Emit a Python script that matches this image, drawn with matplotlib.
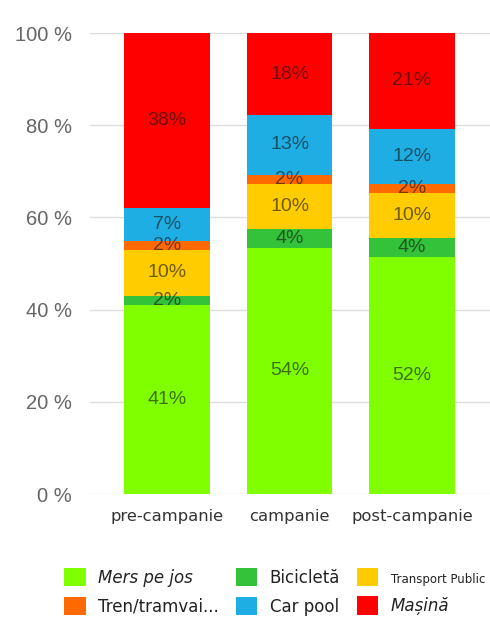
import numpy as np
import matplotlib
matplotlib.use('Agg')
import matplotlib.pyplot as plt
from matplotlib.patches import Patch

# Date (procente)
categories = ['pre-campanie', 'campanie', 'post-campanie']
series_names = ['Mers pe jos', 'Bicicletă', 'Transport Public', 'Tren/tramvai...', 'Car pool', 'Mașină']
mers_pe_jos = [41, 54, 52]
bicicleta = [2, 4, 4]
transport_public = [10, 10, 10]
tren_tramvai = [2, 2, 2]
car_pool = [7, 13, 12]
masina = [38, 18, 21]
y_ticks = [0, 20, 40, 60, 80, 100]

series = [mers_pe_jos, bicicleta, transport_public, tren_tramvai, car_pool, masina]
colors = ['#7FFF00', '#33C23A', '#FFCC00', '#FF6A00', '#1EAEE3', '#FF0000']

data = np.array(series, dtype=float)
totals = data.sum(axis=0)
heights = data / totals * 100  # 100% stacked

fig = plt.figure(figsize=(4.9, 6.17), dpi=100)
ax = fig.add_axes([0.184, 0.199, 0.816, 0.7475])

x = np.arange(len(categories))
bottom = np.zeros(len(categories))
for name, vals, h, c in zip(series_names, series, heights, colors):
    ax.bar(x, h, bottom=bottom, width=0.70, color=c, zorder=2)
    for xi, b, hi, v in zip(x, bottom, h, vals):
        ax.text(xi, b + hi / 2, f'{v}%', ha='center', va='center',
                fontsize=14, family='Liberation Sans', color='#111111',
                alpha=0.6, zorder=3)
    bottom += h

ax.set_xlim(-0.629, 2.637)
ax.set_ylim(0, 100)
ax.set_yticks(y_ticks)
ax.set_yticklabels([f'{t} %' for t in y_ticks], family='Liberation Sans',
                   fontsize=14.5, color='#666666')
ax.set_xticks(x)
ax.set_xticklabels(categories, fontsize=11.8, color='#333333')
ax.tick_params(axis='y', length=0, pad=13)
ax.tick_params(axis='x', length=0, pad=11)
ax.grid(axis='y', color='#dddddd', linewidth=1, zorder=0)
ax.set_axisbelow(True)
for s in ax.spines.values():
    s.set_visible(False)

# legend: columns fill top-to-bottom
order = [0, 3, 1, 4, 2, 5]
handles = [Patch(facecolor=colors[i], edgecolor='none') for i in order]
labels = [series_names[i] for i in order]
leg = fig.legend(handles, labels, ncol=3, loc='lower left',
                 bbox_to_anchor=(0.1, -0.022), frameon=False, fontsize=12,
                 handlelength=1.3, handleheight=1.3, handletextpad=0.75,
                 columnspacing=1.0, labelspacing=0.6)
texts = leg.get_texts()
texts[0].set_style('italic')
texts[5].set_style('italic')
texts[4].set_fontsize(8.5)
for t in texts:
    t.set_color('#222222')

fig.savefig('out.png', dpi=100)
